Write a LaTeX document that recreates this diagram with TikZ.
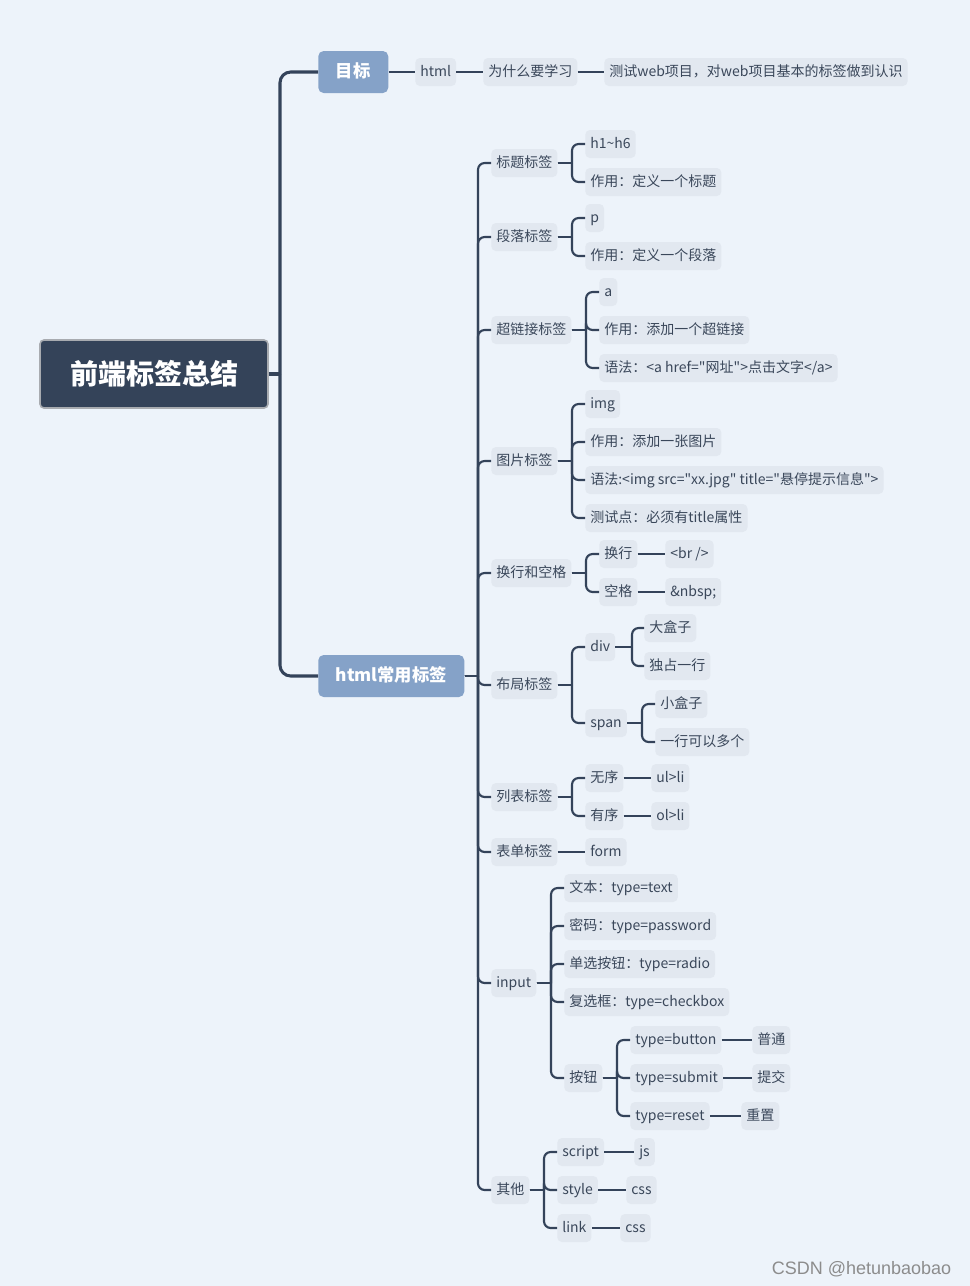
\documentclass[tikz,border=0pt]{standalone}
\usepackage{fontspec}
\setmainfont{Noto Sans CJK SC}[Ligatures=TeXOff]
\newfontfamily\wmfont{Liberation Sans}
\usetikzlibrary{calc}
\definecolor{bgblue}{HTML}{EDF3FA}
\definecolor{leaffill}{HTML}{E2E8F0}
\definecolor{linedark}{HTML}{34435A}
\definecolor{textdark}{HTML}{3A475A}
\definecolor{topicblue}{HTML}{85A2C8}
\definecolor{rootfill}{HTML}{344359}
\definecolor{rootrim}{HTML}{A8ABB0}

\tikzset{
  leaf/.style={fill=leaffill, rounded corners=3.5pt, text=textdark,
    font=\fontsize{10.5}{12}\selectfont, inner xsep=3.8pt, inner ysep=0pt,
    text height=8pt, text depth=2pt, minimum height=21pt, anchor=west},
  topic/.style={fill=topicblue, rounded corners=4pt, text=white,
    font=\fontsize{13}{15}\selectfont\bfseries, inner ysep=0pt,
    text height=10pt, text depth=2.5pt, minimum height=31.5pt, anchor=west},
  rootbox/.style={fill=rootfill, draw=rootrim, line width=1.2pt, rounded corners=3pt,
    text=white, font=\fontsize{21}{24}\selectfont\bfseries,
    minimum width=171pt, minimum height=51pt},
  conn/.style={draw=linedark, line width=1.6pt},
  mainconn/.style={draw=linedark, line width=2.3pt},
}

% parent -> child, spine #1 px left of the child
\newcommand{\branch}[3][13]{%
  \draw[conn] (#2.east) -- ($(#2.east -| #3.west)+(-#1,0)$);
  \draw[conn,rounded corners=5pt] ($(#2.east -| #3.west)+(-#1,0)$) |- (#3.west);}

\begin{document}
\begin{tikzpicture}[x=0.75pt,y=-0.75pt]
  \fill[bgblue] (0,0) rectangle (970,1286);
  \useasboundingbox (0,0) rectangle (970,1286);

  % root and main topics
  \node[rootbox] (root) at (154,374) {前端标签总结};
  \node[topic, minimum width=52.5pt] (goal) at (318,72) {目标};
  \node[topic, minimum width=109.5pt] (common) at (318,676) {html常用标签};

  \draw[mainconn] (root.east) -- ($(root.east -| goal.west)+(-38,0)$);
  \draw[mainconn,rounded corners=8pt] ($(root.east -| goal.west)+(-38,0)$) |- (goal.west);
  \draw[mainconn,rounded corners=8pt] ($(root.east -| common.west)+(-38,0)$) |- (common.west);

  % goal
  \node[leaf] (html) at (415,72) {html};
  \node[leaf] (why) at (483,72) {为什么要学习};
  \node[leaf] (test) at (604,72) {测试web项目，对web项目基本的标签做到认识};
  \draw[conn] (goal) -- (html);
  \draw[conn] (html) -- (why);
  \draw[conn] (why) -- (test);

  % second level
  \node[leaf] (title) at (491,163) {标题标签};
  \node[leaf] (para) at (491,237) {段落标签};
  \node[leaf] (hyper) at (491,330) {超链接标签};
  \node[leaf] (image) at (491,461) {图片标签};
  \node[leaf] (brsp) at (491,573) {换行和空格};
  \node[leaf] (layout) at (491,685) {布局标签};
  \node[leaf] (list) at (491,797) {列表标签};
  \node[leaf] (form) at (491,852) {表单标签};
  \node[leaf] (input) at (491,983) {input};
  \node[leaf] (other) at (491,1190) {其他};
  \foreach \c in {title,para,hyper,image,brsp,layout,list,form,input,other}
    \branch{common}{\c};

  % title
  \node[leaf] (h16) at (585,144) {h1\textasciitilde h6};
  \node[leaf] (titleuse) at (585,182) {作用：定义一个标题};
  \branch{title}{h16}
  \branch{title}{titleuse}

  % paragraph
  \node[leaf] (pp) at (585,218) {p};
  \node[leaf] (parause) at (585,256) {作用：定义一个段落};
  \branch{para}{pp}
  \branch{para}{parause}

  % hyperlink
  \node[leaf] (aa) at (599,292) {a};
  \node[leaf] (hyperuse) at (599,330) {作用：添加一个超链接};
  \node[leaf] (hypersyn) at (599,368) {语法：<a href="网址">点击文字</a>};
  \foreach \c in {aa,hyperuse,hypersyn}
    \branch{hyper}{\c};

  % image
  \node[leaf] (imgtag) at (585,404) {img};
  \node[leaf] (imguse) at (585,442) {作用：添加一张图片};
  \node[leaf] (imgsyn) at (585,480) {语法:<img src="xx.jpg" title="悬停提示信息">};
  \node[leaf] (imgtest) at (585,518) {测试点：必须有title属性};
  \foreach \c in {imgtag,imguse,imgsyn,imgtest}
    \branch{image}{\c};

  % line break and space
  \node[leaf] (br) at (599,554) {换行};
  \node[leaf] (brtag) at (665,554) {<br />};
  \node[leaf] (sp) at (599,592) {空格};
  \node[leaf] (sptag) at (665,592) {\&nbsp;};
  \branch{brsp}{br}
  \branch{brsp}{sp}
  \draw[conn] (br) -- (brtag);
  \draw[conn] (sp) -- (sptag);

  % layout
  \node[leaf] (div) at (585,647) {div};
  \node[leaf] (span) at (585,723) {span};
  \node[leaf] (bigbox) at (644,628) {大盒子};
  \node[leaf] (oneline) at (644,666) {独占一行};
  \node[leaf] (smallbox) at (655,704) {小盒子};
  \node[leaf] (multi) at (655,742) {一行可以多个};
  \branch{layout}{div}
  \branch{layout}{span}
  \branch[12]{div}{bigbox}
  \branch[12]{div}{oneline}
  \branch{span}{smallbox}
  \branch{span}{multi}

  % list
  \node[leaf] (ul) at (585,778) {无序};
  \node[leaf] (ultag) at (651,778) {ul>li};
  \node[leaf] (ol) at (585,816) {有序};
  \node[leaf] (oltag) at (651,816) {ol>li};
  \branch{list}{ul}
  \branch{list}{ol}
  \draw[conn] (ul) -- (ultag);
  \draw[conn] (ol) -- (oltag);

  % form
  \node[leaf] (formtag) at (585,852) {form};
  \draw[conn] (form) -- (formtag);

  % input
  \node[leaf] (txt) at (564,888) {文本：type=text};
  \node[leaf] (pwd) at (564,926) {密码：type=password};
  \node[leaf] (radio) at (564,964) {单选按钮：type=radio};
  \node[leaf] (check) at (564,1002) {复选框：type=checkbox};
  \node[leaf] (btn) at (564,1078) {按钮};
  \foreach \c in {txt,pwd,radio,check,btn}
    \branch{input}{\c};

  % buttons
  \node[leaf] (button) at (630,1040) {type=button};
  \node[leaf] (normal) at (752,1040) {普通};
  \node[leaf] (submit) at (630,1078) {type=submit};
  \node[leaf] (commit) at (752,1078) {提交};
  \node[leaf] (reset) at (630,1116) {type=reset};
  \node[leaf] (resetzh) at (741,1116) {重置};
  \foreach \c in {button,submit,reset}
    \branch{btn}{\c};
  \draw[conn] (button) -- (normal);
  \draw[conn] (submit) -- (commit);
  \draw[conn] (reset) -- (resetzh);

  % other
  \node[leaf] (script) at (557,1152) {script};
  \node[leaf] (js) at (634,1152) {js};
  \node[leaf] (style) at (557,1190) {style};
  \node[leaf] (css) at (626,1190) {css};
  \node[leaf] (linktag) at (557,1228) {link};
  \node[leaf] (csstwo) at (620,1228) {css};
  \foreach \c in {script,style,linktag}
    \branch{other}{\c};
  \draw[conn] (script) -- (js);
  \draw[conn] (style) -- (css);
  \draw[conn] (linktag) -- (csstwo);

  % watermark
  \node[anchor=east, text=black!45, font=\wmfont\fontsize{13.5}{15}\selectfont]
    (mark) at (956,1269) {CSDN @hetunbaobao};
\end{tikzpicture}
\end{document}
